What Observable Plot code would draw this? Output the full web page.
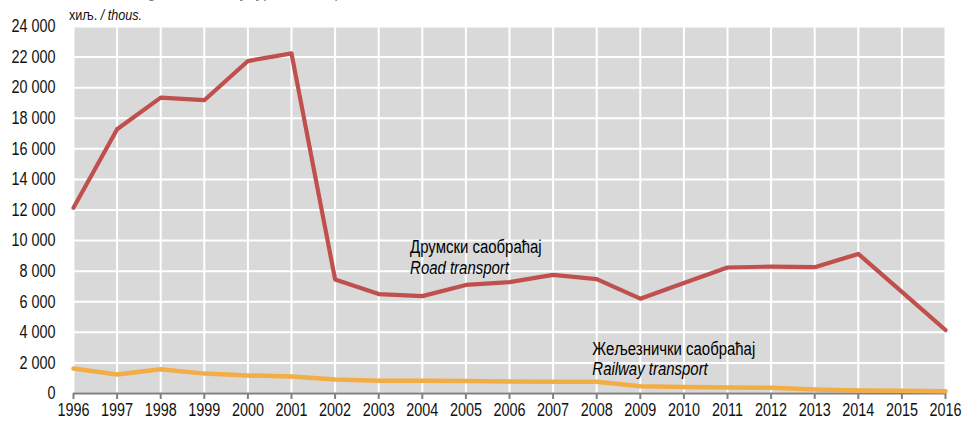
<!DOCTYPE html>
<html>
<head>
<meta charset="utf-8">
<script src="https://cdn.jsdelivr.net/npm/d3@7"></script>
<script src="https://cdn.jsdelivr.net/npm/@observablehq/plot@0.6"></script>
<style>
  html, body { margin: 0; padding: 0; background: #fff; }
  #wrap { position: relative; width: 962px; height: 422px; overflow: hidden; font-family: "Liberation Sans", Arial, sans-serif; }
  #title { position: absolute; left: 98px; top: -19px; font-size: 18px; font-style: italic; color: #7f7f7f; white-space: nowrap; transform: scaleX(0.84); transform-origin: left top; }
  #unit { position: absolute; left: 69px; top: 6px; font-size: 15px; color: #111; white-space: nowrap; transform: scaleX(0.84); transform-origin: left top; }
  #unit i { font-style: italic; }
  svg text { font-family: "Liberation Sans", Arial, sans-serif; }
</style>
</head>
<body>
<div id="wrap">
  <div id="title">Passengers carried by type of transport</div>
  <div id="unit">хиљ. <i>/ thous.</i></div>
</div>
<script>
const years = [1996,1997,1998,1999,2000,2001,2002,2003,2004,2005,2006,2007,2008,2009,2010,2011,2012,2013,2014,2015,2016];
const road  = [12150,17280,19350,19180,21740,22240,7460,6500,6370,7100,7280,7760,7480,6200,7220,8240,8300,8260,9130,6650,4150];
const rail  = [1630,1240,1590,1300,1180,1110,915,830,830,810,790,770,765,470,430,390,370,260,200,175,150];
const yTicks = [0,2000,4000,6000,8000,10000,12000,14000,16000,18000,20000,22000,24000];

const roadLabel = {x: 2003.72, sr: 9540, en: 8170, sr_text: "Друмски саобраћај", en_text: "Road transport"};
const railLabel = {x: 2007.9, sr: 2880, en: 1560, sr_text: "Жељезнички саобраћај", en_text: "Railway transport"};

const roadData = years.map((y, i) => ({year: y, value: road[i]}));
const railData = years.map((y, i) => ({year: y, value: rail[i]}));
const labels = [roadLabel, railLabel];

const fmt = d3.formatLocale({thousands: " ", grouping: [3], decimal: ","}).format(",");

const chart = Plot.plot({
  width: 962,
  height: 422,
  marginLeft: 73,
  marginRight: 17,
  marginTop: 26,
  marginBottom: 29,
  style: {background: "transparent", fontSize: "18px", color: "#111", overflow: "visible"},
  x: {domain: [1996, 2016], ticks: years, tickFormat: d => String(d), label: null},
  y: {domain: [0, 24000], ticks: yTicks, tickFormat: fmt, label: null},
  marks: [
    Plot.frame({fill: "#d9d9d9", stroke: null}),
    Plot.gridX(years, {stroke: "#ffffff", strokeOpacity: 1, strokeWidth: 2}),
    Plot.gridY(yTicks, {stroke: "#ffffff", strokeOpacity: 1, strokeWidth: 2}),
    Plot.ruleY([0], {stroke: "#808080", strokeWidth: 2}),
    Plot.axisX(years, {tickSize: 6, tickPadding: 4, stroke: "#808080", strokeWidth: 2, fontSize: 18, fill: "#111", tickFormat: d => String(d), label: null}),
    Plot.axisY(yTicks, {tickSize: 0, tickPadding: 18, fontSize: 18, fill: "#111", tickFormat: fmt, label: null}),
    Plot.line(railData, {x: "year", y: "value", stroke: "#f2ad45", strokeWidth: 4.5}),
    Plot.line(roadData, {x: "year", y: "value", stroke: "#c0504d", strokeWidth: 4.2}),
    Plot.text(labels, {x: "x", y: "sr", text: "sr_text", textAnchor: "start", fontSize: 18, fill: "#000", className: "serieslabel"}),
    Plot.text(labels, {x: "x", y: "en", text: "en_text", textAnchor: "start", fontSize: 18, fontStyle: "italic", fill: "#000", className: "serieslabel"})
  ]
});
chart.style.position = "absolute";
chart.style.left = "0px";
chart.style.top = "0px";
document.getElementById("wrap").prepend(chart);

// emulate a narrow (Arial Narrow-like) face by condensing glyphs
chart.querySelectorAll("text").forEach(t => {
  const isLabel = !!t.closest(".serieslabel");
  const spans = t.querySelectorAll("tspan");
  const targets = spans.length ? spans : [t];
  targets.forEach(el => {
    const len = el.getComputedTextLength();
    if (len > 0) {
      el.setAttribute("textLength", (len * (isLabel ? 0.83 : 0.8)).toFixed(2));
      el.setAttribute("lengthAdjust", "spacingAndGlyphs");
    }
  });
});
</script>
</body>
</html>
